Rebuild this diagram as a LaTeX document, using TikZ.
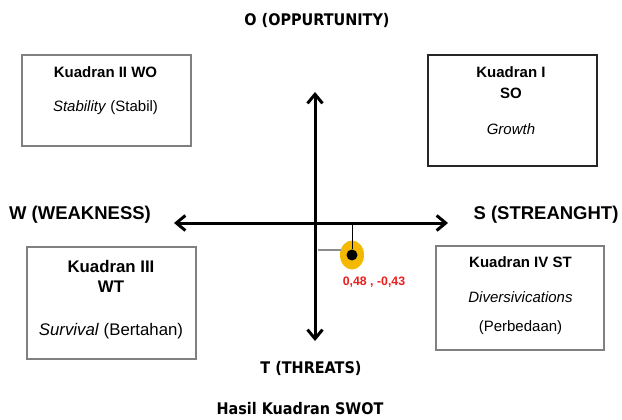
\documentclass[tikz,border=0pt]{standalone}
\usepackage{fontspec}
\setmainfont{Liberation Sans}
\newfontfamily\tahfont[FakeStretch=0.9]{DejaVu Sans}
\usetikzlibrary{arrows.meta,shapes.geometric}
\definecolor{boxgray}{RGB}{128,128,128}
\definecolor{dotorange}{RGB}{245,184,0}
\definecolor{lblred}{RGB}{235,30,30}
\tikzset{
  quad/.style={draw=boxgray,line width=1.3pt,rectangle,inner sep=0pt},
  quaddark/.style={draw=black!85,line width=1.3pt,rectangle,inner sep=0pt},
  bt/.style={font=\fontsize{15}{17}\selectfont\bfseries,inner sep=0pt,anchor=center},
  it/.style={font=\fontsize{15}{17}\selectfont,inner sep=0pt,anchor=center},
  bigbt/.style={font=\fontsize{16.8}{19}\selectfont\bfseries,inner sep=0pt,anchor=center},
  bigit/.style={font=\fontsize{16.8}{19}\selectfont,inner sep=0pt,anchor=center},
  axlabel/.style={font=\fontsize{18.5}{21}\selectfont\bfseries,inner sep=0pt,anchor=center},
  tahlabel/.style={font=\tahfont\fontsize{16}{19}\selectfont\bfseries,inner sep=0pt,anchor=center},
  axis/.style={line width=3pt,black,-{Straight Barb[length=9pt,width=15pt,line width=3pt]}},
}
\begin{document}
\begin{tikzpicture}[x=1pt,y=-1pt]
\useasboundingbox (0,0) rectangle (622,420);
% titles
\node[tahlabel] (otitle) at (317,20) {O (OPPURTUNITY)};
\node[tahlabel] (ttitle) at (311,368) {T (THREATS)};
\node[tahlabel] (htitle) at (300,409) {Hasil Kuadran SWOT};
\node[axlabel] (wtitle) at (80,215) {W (WEAKNESS)};
\node[axlabel] (stitle) at (546,215) {S (STREANGHT)};
% boxes
\node[quad, minimum width=169pt, minimum height=91pt] (q2) at (106.5,100.5) {};
\node[quaddark, minimum width=169pt, minimum height=111pt] (q1) at (512.5,110.5) {};
\node[quad, minimum width=169pt, minimum height=112pt] (q3) at (111.5,303) {};
\node[quad, minimum width=168pt, minimum height=104pt] (q4) at (520,298) {};
% box texts
\node[bt] (q2a) at (105.5,72) {Kuadran II WO};
\node[it] (q2b) at (105.5,108) {\textit{Stability} (Stabil)};
\node[bt] (q1a) at (511,72) {Kuadran I};
\node[bt] (q1b) at (511,93) {SO};
\node[it] (q1c) at (511,129) {\textit{Growth}};
\node[bigbt] (q3a) at (111,266) {Kuadran III};
\node[bigbt] (q3b) at (111,287) {WT};
\node[bigit] (q3c) at (111,331) {\textit{Survival} (Bertahan)};
\node[bt] (q4a) at (520.5,262) {Kuadran IV ST};
\node[it] (q4b) at (520.5,297) {\textit{Diversivications}};
\node[it] (q4c) at (520.5,328) {(Perbedaan)};
% axes
\coordinate (ctr) at (315,223);
\coordinate (top) at (315,92);
\coordinate (bot) at (315,341);
\coordinate (lft) at (174,223);
\coordinate (rgt) at (448,223);
\draw[axis] (ctr) -- (top);
\draw[axis] (ctr) -- (bot);
\draw[axis] (ctr) -- (lft);
\draw[axis] (ctr) -- (rgt);
% point
\node[ellipse, fill=dotorange, minimum width=24pt, minimum height=29pt, inner sep=0pt] (ell) at (352,255) {};
\node[circle, fill=black, minimum size=11pt, inner sep=0pt] (dot) at (352,255) {};
\coordinate (px) at (352,224);
\coordinate (gx) at (317.5,250);
\coordinate (gy) at (341,250);
\draw[black, line width=1pt] (px) -- (dot.north);
\draw[black!45, line width=1.2pt] (gx) -- (gy);
\node[font=\fontsize{12.3}{14}\selectfont\bfseries, text=lblred, inner sep=0pt] (lbl) at (374,282) {0,48 , -0,43};
\end{tikzpicture}
\end{document}
